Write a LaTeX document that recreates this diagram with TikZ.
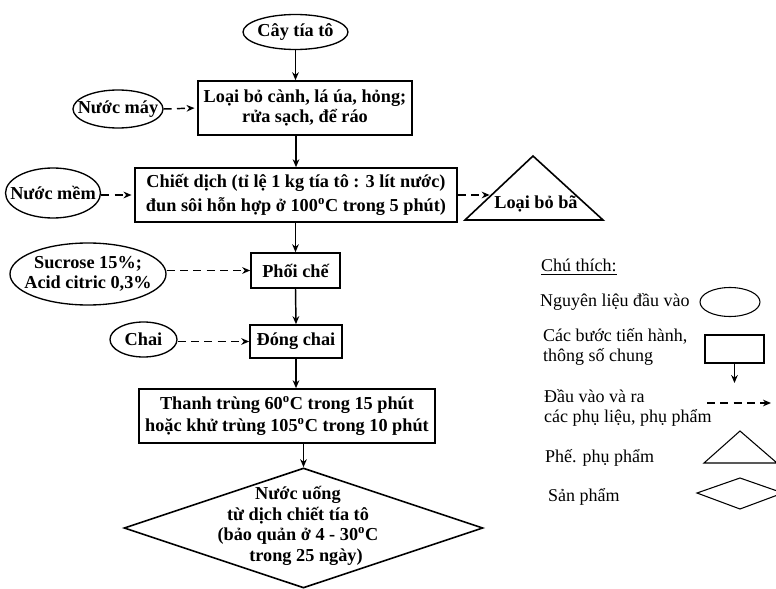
\documentclass[tikz,border=0pt]{standalone}
\usepackage{fontspec}
\setmainfont{Liberation Serif}
\usetikzlibrary{shapes.geometric,arrows.meta}
\newcommand{\doC}{\textsuperscript{o}C}
\tikzset{
  dam/.style={font=\fontsize{13.7}{15.5}\selectfont\bfseries},
  thuong/.style={font=\fontsize{13.5}{15.5}\selectfont},
  nguyenlieu/.style={draw, ellipse, line width=1pt, inner xsep=-10pt, inner ysep=0pt, align=center, dam},
  buoc/.style={draw, rectangle, line width=1.2pt, inner sep=1pt, align=center, dam},
  sanpham/.style={draw, diamond, line width=1.2pt, inner sep=0pt},
  muiten/.style={-{Stealth[length=6pt,width=5pt]}, line width=1.1pt},
  phulieu/.style={muiten, dash pattern=on 6pt off 4pt},
}

\begin{document}
\begin{tikzpicture}[x=0.75pt, y=-0.75pt]
    \useasboundingbox (0,0) rectangle (776,589);
    \clip (0,0) rectangle (776,589);

    \node[nguyenlieu, minimum width=78.75pt, minimum height=26.25pt] (cay) at (295.5,32) {Cây tía tô};
    \node[buoc, minimum width=160.5pt, minimum height=40.5pt] (loai) at (305,108) {Loại bỏ cành, lá úa, hỏng;\\ rửa sạch, để ráo};
    \node[nguyenlieu, minimum width=67.5pt, minimum height=28.5pt] (nuocmay) at (118,109) {Nước máy};
    \node[buoc, minimum width=241.5pt, minimum height=40.5pt] (chiet) at (296,195) {Chiết dịch (tỉ lệ 1 kg tía tô : 3 lít nước)\\[3pt] đun sôi hỗn hợp ở 100\doC{} trong 5 phút)};
    \node[nguyenlieu, minimum width=71.25pt, minimum height=37.5pt] (nuocmem) at (53,193) {Nước mềm};
    \draw[line width=1.2pt] (465,220) -- (533,156) -- (603,220) -- cycle;
    \node[dam] (bo) at (536,204) {Loại bỏ bã};
    \node[buoc, minimum width=66.75pt, minimum height=26.25pt] (phoi) at (295.5,270.5) {Phối chế};
    \node[nguyenlieu, minimum width=117pt, minimum height=46.5pt] (sucrose) at (88,274) {Sucrose 15\%;\\ Acid citric 0,3\%};
    \node[buoc, minimum width=69pt, minimum height=24.75pt] (dong) at (296,341.5) {Đóng chai};
    \node[nguyenlieu, minimum width=50.25pt, minimum height=26.25pt] (chai) at (143.5,339.5) {Chai};
    \node[buoc, minimum width=222pt, minimum height=40.5pt] (thanh) at (287,416) {Thanh trùng 60\doC{} trong 15 phút\\[1pt] hoặc khử trùng 105\doC{} trong 10 phút};
    \node[sanpham, minimum width=269.25pt, minimum height=90pt] (sp) at (303.5,528) {};
    \node[dam, align=center] (sptext) at (298,526) {Nước uống\\ từ dịch chiết tía tô\\ (bảo quản ở 4 - 30\doC\\ \hspace*{12pt}trong 25 ngày)};

    \draw[muiten] (cay.south) -- (cay.south |- loai.north);
    \draw[muiten] (chiet.north |- loai.south) -- (chiet.north);
    \draw[muiten] (phoi.north |- chiet.south) -- (phoi.north);
    \draw[muiten] (phoi.south) -- (dong.north);
    \draw[muiten] (dong.south) -- (dong.south |- thanh.north);
    \draw[muiten] (thanh.south -| sp.north) -- (sp.north);

    \draw[phulieu, shorten >=2pt] (nuocmay.east) -- (loai.west);
    \draw[phulieu, shorten >=2pt] (nuocmem.east |- chiet.west) -- (chiet.west);
    \draw[phulieu] (chiet.east) -- (chiet.east -| bo.west);
    \draw[phulieu] (sucrose.east |- phoi.west) -- (phoi.west);
    \draw[phulieu] (chai.east |- dong.west) -- (dong.west);

    \node[thuong, anchor=west] (chuthich) at (536.5,267) {\underline{Chú thích:}};
    \node[thuong, anchor=west] (l1) at (535.5,302) {Nguyên liệu đầu vào};
    \node[thuong, anchor=west, align=left] (l2) at (538.5,347) {Các bước tiến hành,\\ thông số chung};
    \node[thuong, anchor=west, align=left] (l3) at (539.5,408) {Đầu vào và ra\\ các phụ liệu, phụ phẩm};
    \node[thuong, anchor=west] (l4) at (540.5,458) {Phế. phụ phẩm};
    \node[thuong, anchor=west] (l5) at (543.5,497) {Sản phẩm};

    \node[nguyenlieu, line width=0.8pt, minimum width=45pt, minimum height=21.75pt] (lel) at (730,302) {};
    \node[buoc, line width=0.8pt, minimum width=44.25pt, minimum height=21pt] (lrect) at (734.5,349) {};
    \coordinate (lrect-end) at (734,383);
    \draw[muiten, line width=0.8pt] (lrect.south) -- (lrect.south |- lrect-end);
    \coordinate (ld-a) at (707,403);
    \coordinate (ld-b) at (771,403);
    \draw[phulieu, line width=0.9pt] (ld-a) -- (ld-b);
    \draw[line width=0.8pt] (704,463) -- (740,431) -- (777,463) -- cycle;
    \draw[line width=0.8pt] (697,493) -- (740,478) -- (783,493) -- (740,509) -- cycle;
\end{tikzpicture}
\end{document}
